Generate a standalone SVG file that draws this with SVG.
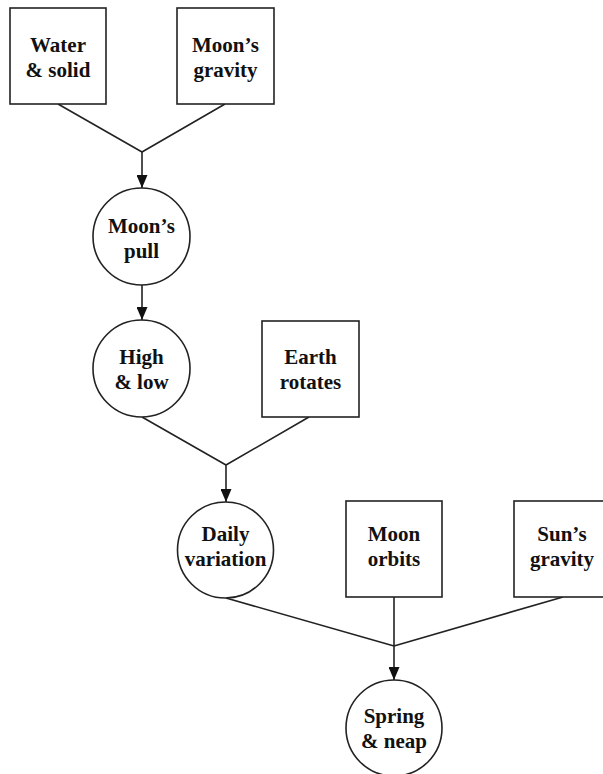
<svg xmlns="http://www.w3.org/2000/svg" width="603" height="774" viewBox="0 0 603 774">
<style>
.n{fill:#fff;stroke:#222;stroke-width:1.6}
.t{font-family:"Liberation Serif","Times New Roman",serif;font-weight:bold;font-size:21px;fill:#111;text-anchor:middle}
.c{fill:none;stroke:#222;stroke-width:1.6}
</style>
<defs>
<marker id="ah" markerWidth="14" markerHeight="11" refX="13" refY="5.5" orient="auto" markerUnits="userSpaceOnUse">
<path d="M0,0 L13,5.5 L0,11 Z" fill="#111"/>
</marker>
</defs>
<g id="connectors">
<path class="c" d="M58,104 L142,152 M225,104 L142,152"/>
<path class="c" d="M142,152 L142,188" marker-end="url(#ah)"/>
<path class="c" d="M142,285 L142,320" marker-end="url(#ah)"/>
<path class="c" d="M142,417 L226,465 M309,417 L226,465"/>
<path class="c" d="M226,465 L226,502" marker-end="url(#ah)"/>
<path class="c" d="M226,598 L394,646 M394,597 L394,646 M563,597 L394,646"/>
<path class="c" d="M394,646 L394,680" marker-end="url(#ah)"/>
</g>
<g id="water">
<rect class="n" x="10" y="8" width="96" height="96"/>
<text class="t" x="58" y="52">Water</text>
<text class="t" x="58" y="77">&amp; solid</text>
</g>
<g id="moongravity">
<rect class="n" x="177" y="8" width="97" height="96"/>
<text class="t" x="225.5" y="52">Moon’s</text>
<text class="t" x="225.5" y="77">gravity</text>
</g>
<g id="moonpull">
<circle class="n" cx="141.5" cy="236.5" r="48.5"/>
<text class="t" x="141.5" y="233">Moon’s</text>
<text class="t" x="141.5" y="258">pull</text>
</g>
<g id="highlow">
<circle class="n" cx="141.5" cy="368.5" r="48.5"/>
<text class="t" x="141.5" y="364">High</text>
<text class="t" x="141.5" y="389">&amp; low</text>
</g>
<g id="earth">
<rect class="n" x="262" y="321" width="97" height="96"/>
<text class="t" x="310.5" y="364">Earth</text>
<text class="t" x="310.5" y="389">rotates</text>
</g>
<g id="daily">
<circle class="n" cx="225.5" cy="550" r="48"/>
<text class="t" x="225.5" y="541">Daily</text>
<text class="t" x="225.5" y="566">variation</text>
</g>
<g id="moonorbits">
<rect class="n" x="346" y="501" width="96" height="96"/>
<text class="t" x="394" y="541">Moon</text>
<text class="t" x="394" y="566">orbits</text>
</g>
<g id="sungravity">
<rect class="n" x="514" y="501" width="97" height="96"/>
<text class="t" x="562" y="541">Sun’s</text>
<text class="t" x="562" y="566">gravity</text>
</g>
<g id="spring">
<circle class="n" cx="394" cy="728" r="48"/>
<text class="t" x="394" y="723">Spring</text>
<text class="t" x="394" y="748">&amp; neap</text>
</g>
</svg>
